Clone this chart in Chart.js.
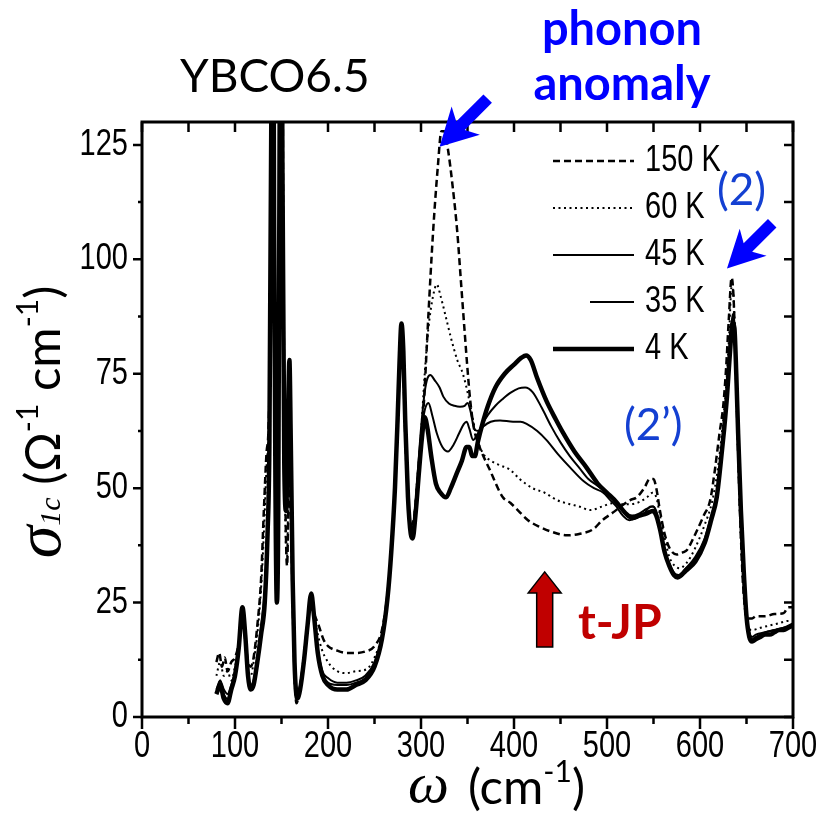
<!DOCTYPE html>
<html>
<head>
<meta charset="utf-8">
<script src="https://cdn.jsdelivr.net/npm/chart.js@4.4.1/dist/chart.umd.min.js"></script>
<style>
  html, body { margin: 0; padding: 0; background: #fff; }
  #wrap { position: relative; width: 821px; height: 822px; overflow: hidden; }
  #chart { position: absolute; left: 0; top: 0; }
  .note { position: absolute; white-space: nowrap; line-height: 1; font-family: Lato, "Open Sans", sans-serif; }
  .blue { color: #0000ff; font-weight: bold; font-size: 47px; width: 300px; text-align: center; }
  .lbl { color: #1440d2; font-size: 44px; }
  .serif { font-family: "Liberation Serif", "DejaVu Serif", serif; font-style: italic; }
  sup { font-size: 30px; vertical-align: 0; position: relative; top: -22px; }
</style>
</head>
<body>
<div id="wrap">
  <canvas id="chart" width="821" height="822"></canvas>
  <div class="note" style="left:180px; top:52px; font-size:46px;">YBCO6.5</div>
  <div class="note blue" style="left:472px; top:4px;">phonon</div>
  <div class="note blue" style="left:472px; top:59px;">anomaly</div>
  <div class="note lbl" style="left:717px; top:166px;">(2)</div>
  <div class="note lbl" style="left:624px; top:401px;">(2’)</div>
  <div class="note" style="left:578px; top:597px; font-size:48px; font-weight:bold; color:#c00000;">t-JP</div>
  <div class="note serif" style="left:408px; top:754px; font-size:58px;">ω</div>
  <div class="note" style="left:468px; top:761px; font-size:49px;">(cm<sup>-1</sup>)</div>
  <div class="note" style="left:-122px; top:387px; width:320px; height:70px; line-height:70px; text-align:center; font-size:49px; transform:rotate(-90deg);"><span class="serif" style="font-size:66px;">σ</span><span class="serif" style="font-size:30px;">1c</span>&nbsp;(Ω<sup>-1</sup> cm<sup>-1</sup>)</div>
</div>
<script>
// sigma_1c spectra of YBCO6.5, [omega (cm-1), sigma (1/(Ohm cm))]
const t150 = [[80,12],[83,14],[86,11],[89,13],[92,10],[96,12],[100,13],[104,16],[108,22],[111,17],[114,12],[117,11],[120,13],[124,20],[128,30],[131,45],[134,58],[136,63],[138,90],[140,200],[142,100],[144,50],[146,40],[148,110],[150,200],[152,100],[154,50],[156,33],[158,50],[160,45],[162,25],[164,10],[166,3],[168,4],[171,8],[175,15],[179,22],[182,24],[186,22],[190,20],[195,17],[200,15.5],[210,14.5],[220,14],[230,14],[240,14.3],[250,15.5],[258,19],[264,27],[268,36],[272,50],[275,64],[277,75],[279,83],[281,76],[283,62],[286,48],[289,42],[292,43],[296,50],[300,58],[304,72],[308,88],[313,106],[318,120],[322,128],[325,128],[329,124],[334,116],[339,106],[343,95],[347,84],[350,76],[353,69],[357,63],[363,59],[374,54],[388,48],[396,46.8],[405,45],[415,43],[428,41.5],[440,40.5],[457,39.7],[470,40],[485,41],[495,43],[506,44.6],[515,46],[525,47.4],[532,48],[540,50],[546,52],[550,52],[553,50],[557,45],[562,40],[567,37],[575,35.5],[582,36],[586,36.5],[595,40],[604,44],[611,47.4],[616,54],[621,62],[625,68],[628,76],[631,87],[634,96],[636,92],[638,80],[640,65],[643,45],[646,30],[649,23],[652,21.5],[656,21.5],[660,22],[670,22],[680,22.5],[690,22.7],[695,24],[700,24]];
const t60 = [[80,9],[84,12],[88,9],[92,10],[96,8],[100,11],[104,15],[108,23],[111,17],[114,10],[117,9],[120,12],[124,18],[128,28],[131,40],[134,55],[136,62],[138,85],[140,200],[142,100],[144,45],[146,38],[148,110],[150,200],[152,100],[154,45],[156,35],[158,55],[160,45],[162,25],[164,8],[166,4],[169,5],[173,10],[177,18],[181,24],[184,23],[188,19],[193,15],[200,12],[210,10],[220,9.6],[230,10],[242,10.5],[250,13],[258,18],[264,27],[268,37],[272,52],[275,66],[277,77],[279,84],[281,78],[283,64],[286,49],[289,42],[292,43],[296,52],[300,62],[304,75],[308,85],[313,92],[317,94.5],[321,92],[326,88],[332,83],[339,78],[345,75],[350,71],[355,66],[360,61],[367,57.5],[375,56],[385,55],[396,54],[406,52],[420,50],[433,49],[446,47.4],[460,46.5],[470,46],[482,45.2],[495,46],[506,46.7],[515,46.5],[525,46.5],[535,47],[543,48],[549,49],[553,48],[557,44],[562,39],[567,35],[573,33],[578,32.5],[585,33.5],[595,37],[605,42],[613,47],[619,54],[624,63],[628,72],[631,82],[634,94],[636,92],[638,80],[640,64],[643,44],[646,30],[649,22],[652,19.5],[656,19],[665,19.5],[675,20],[685,20.5],[695,21],[700,21]];
const t45 = [[80,6],[84,8],[88,6],[92,5],[96,7],[100,10],[104,16],[108,24],[111,18],[114,9],[117,7],[120,8],[124,13],[128,20],[132,28],[135,42],[137,60],[139,130],[140.5,200],[142,110],[143.5,50],[145,25],[146.5,45],[148,130],[149.5,200],[151,120],[153,55],[155,45],[157,65],[158.5,76],[160,60],[162,30],[164,12],[167,5],[170,7],[174,13],[178,20],[182,26],[185,22],[189,15],[194,10],[200,8.5],[210,7.5],[220,7.5],[230,8],[240,9],[250,12],[258,17.5],[264,26],[268,36],[272,50],[275,65],[277,77],[279,85],[281,79],[283,64],[286,48],[289,41],[292,42],[296,52],[300,63],[304,71],[307,74],[310,74.7],[315,73.5],[320,72],[324,70],[330,68.5],[336,68],[342,67.8],[347,68],[350,68.6],[353,67],[356,64],[358,62.7],[362,62.5],[367,63.5],[375,64.5],[385,64.8],[399,64.5],[407,64.5],[414,64],[425,62.5],[435,60.5],[447,57.5],[460,54.6],[475,51.5],[486,50],[496,49],[503,47.5],[510,46],[517,44],[524,43],[532,43.5],[540,44.5],[547,46],[550,46],[553,44.5],[557,41],[562,36.5],[567,33.5],[572,31.5],[577,31],[585,32.5],[595,35],[605,39],[612,44],[618,49],[622,56],[626,64],[629,71],[632,80],[635,88],[637,86],[639,76],[641,62],[644,45],[647,32],[650,23],[653,18.5],[656,17.5],[660,18],[670,18.5],[680,19],[690,19.5],[700,20.5]];
const t35 = [[80,5],[84,8],[88,5],[92,4],[96,6],[100,9],[104,15],[108,24],[111,18],[114,9],[117,6.5],[120,7.5],[124,12],[128,19],[132,26],[135,41],[137,60],[139,130],[140.5,200],[142,110],[143.5,50],[145,25],[146.5,45],[148,130],[149.5,200],[151,120],[153,55],[155,45],[157,65],[158.5,77],[160,60],[162,30],[164,12],[167,4.5],[170,6.5],[174,12.5],[178,20],[182,26.5],[185,22],[189,14.5],[194,9.5],[200,7.5],[210,7],[220,7],[230,7.5],[240,8.5],[250,11.5],[258,17],[264,26],[268,36],[272,50],[275,66],[277,78],[279,85.5],[281,80],[283,65],[286,48],[289,40],[291,39.5],[294,45],[298,56],[301,63],[304,67],[308,68.6],[312,66],[317,62],[323,59],[329,58],[335,59.5],[341,62],[346,64],[349,64.5],[352,63],[356,60.5],[360,61.5],[366,64],[372,66],[380,68],[388,69.5],[396,70.8],[405,71.8],[412,72],[420,71],[430,67.5],[440,63.5],[450,60],[460,57],[470,54.5],[480,52],[490,50.5],[496,49.6],[505,48],[512,46.5],[520,44.5],[527,44],[535,44.5],[543,45.5],[549,46],[553,45],[557,41.5],[562,36.5],[567,33.5],[572,31.5],[577,31],[585,32.5],[595,34.5],[605,38.5],[612,43.5],[618,48.5],[622,55.5],[626,63.5],[629,71],[632,80],[635,87],[637,86],[639,76],[641,62],[644,45],[647,32],[650,22.5],[653,18],[656,17],[660,17.5],[670,18.5],[680,19],[690,19.5],[700,20]];
const t4 = [[80,5],[84,7],[88,4],[92,3],[96,6],[100,9],[104,15],[108,24],[111,18],[114,9],[117,6],[120,7],[124,12],[128,18],[132,25],[135,40],[137,60],[139,130],[140.5,200],[142,110],[143.5,50],[145,25],[146.5,45],[148,130],[149.5,200],[151,120],[153,55],[155,45],[157,65],[158.5,78],[160,60],[162,30],[164,12],[167,4],[170,6],[174,12],[178,20],[182,27],[185,22],[189,14],[194,9],[200,7],[210,6],[220,6],[230,7],[240,8],[250,11],[258,17],[264,26],[268,36],[272,50],[275,66],[277,78],[279,86],[281,80],[283,65],[286,48],[289,40],[291,39],[294,44],[298,54],[301,61],[304,65.5],[307,63],[311,57],[316,51],[321,49],[327,48],[332,50],[338,53],[344,56],[349,59],[352,59],[355,57],[358,57],[361,60],[366,64],[372,68],[380,72],[390,75],[400,77],[408,78.5],[413,79],[418,78],[425,74],[435,69],[445,65],[453,62],[465,58],[478,54.5],[490,51],[500,49],[510,47],[520,44.5],[527,43.5],[535,44],[543,44.5],[549,45],[553,44],[557,41],[562,36],[567,33],[572,31],[576,30.5],[585,32],[595,34],[605,38],[612,43],[618,48],[622,55],[626,63],[629,70],[632,79],[635,86],[637,85],[639,75],[641,62],[644,45],[647,32],[650,22],[653,17.5],[656,16.5],[660,17],[665,17.5],[670,18],[675,18],[680,18.5],[685,19],[690,19],[695,19.5],[700,20]];

const tempLabels = ['150 K', '60 K', '45 K', '35 K', '4 K'];
const xTicks = [0, 100, 200, 300, 400, 500, 600, 700];
const yTicks = [0, 25, 50, 75, 100, 125];

// arrow tips, in data units
const phononTip = [320, 124.6];
const peak2Tip = [629, 98];
const jpTip = [433, 31.7];

const tickFont = '29px "Liberation Sans", Arial, sans-serif';

function pts(arr) { return arr.map(p => ({ x: p[0], y: p[1] })); }

function arrow(ctx, tx, ty, ang, len, shaftW, headL, headW, fill, stroke) {
    ctx.save();
    ctx.translate(tx, ty);
    ctx.rotate(ang);
    ctx.beginPath();
    ctx.moveTo(0, 0);
    ctx.lineTo(headL, -headW / 2);
    ctx.lineTo(headL * 0.8, -shaftW / 2);
    ctx.lineTo(len, -shaftW / 2);
    ctx.lineTo(len, shaftW / 2);
    ctx.lineTo(headL * 0.8, shaftW / 2);
    ctx.lineTo(headL, headW / 2);
    ctx.closePath();
    ctx.fillStyle = fill;
    ctx.fill();
    if (stroke) {
        ctx.strokeStyle = stroke;
        ctx.lineWidth = 1.5;
        ctx.stroke();
    }
    ctx.restore();
}

function stretchedText(ctx, text, x, y, align) {
    ctx.save();
    ctx.translate(x, y);
    ctx.scale(1, 1.25);
    ctx.textAlign = align;
    ctx.textBaseline = 'middle';
    ctx.fillText(text, 0, 0);
    ctx.restore();
}

const framePlugin = {
    id: 'frame',
    afterDraw(chart) {
        const { ctx, chartArea: a, scales: { x, y } } = chart;
        ctx.save();
        ctx.strokeStyle = '#000';
        ctx.fillStyle = '#000';
        ctx.lineWidth = 3;
        ctx.strokeRect(a.left, a.top, a.right - a.left, a.bottom - a.top);

        // ticks (minor ones halfway between the labelled ones)
        ctx.lineWidth = 2.5;
        ctx.beginPath();
        xTicks.forEach((v, i) => {
            const marks = [[v, true]];
            if (i > 0) marks.push([(v + xTicks[i - 1]) / 2, false]);
            marks.forEach(([m, major]) => {
                const px = x.getPixelForValue(m);
                ctx.moveTo(px, a.bottom); ctx.lineTo(px, a.bottom + (major ? 12 : 7));
                ctx.moveTo(px, a.top); ctx.lineTo(px, a.top + 10);
            });
        });
        yTicks.forEach((v, i) => {
            const marks = [[v, true]];
            if (i > 0) marks.push([(v + yTicks[i - 1]) / 2, false]);
            marks.forEach(([m, major]) => {
                const py = y.getPixelForValue(m);
                ctx.moveTo(a.left, py); ctx.lineTo(a.left - (major ? 9 : 4), py);
                ctx.moveTo(a.right, py); ctx.lineTo(a.right - 9, py);
            });
        });
        ctx.stroke();

        // tick labels
        ctx.font = tickFont;
        xTicks.forEach(v => stretchedText(ctx, String(v), x.getPixelForValue(v), a.bottom + 30, 'center'));
        yTicks.forEach(v => stretchedText(ctx, String(v), a.left - 14, y.getPixelForValue(v), 'right'));

        // legend
        chart.data.datasets.forEach((ds, i) => {
            const ly = 161 + i * 47;
            ctx.save();
            ctx.strokeStyle = '#000';
            ctx.lineWidth = ds.borderWidth;
            ctx.setLineDash(ds.borderDash || []);
            ctx.beginPath();
            ctx.moveTo(i === 3 ? 590 : 553, ly);
            ctx.lineTo(634, ly);
            ctx.stroke();
            ctx.restore();
            stretchedText(ctx, ds.label, 645, ly, 'left');
        });

        // annotation arrows
        const ang = -Math.PI / 4;
        arrow(ctx, x.getPixelForValue(phononTip[0]), y.getPixelForValue(phononTip[1]), ang, 68, 12, 37, 40, '#0000ff');
        arrow(ctx, x.getPixelForValue(peak2Tip[0]), y.getPixelForValue(peak2Tip[1]), ang, 64, 12, 37, 38, '#0000ff');
        const jx = x.getPixelForValue(jpTip[0]), jy = y.getPixelForValue(jpTip[1]);
        ctx.beginPath();
        ctx.moveTo(jx, jy);
        ctx.lineTo(jx + 16.5, jy + 21);
        ctx.lineTo(jx + 8, jy + 21);
        ctx.lineTo(jx + 8, jy + 75);
        ctx.lineTo(jx - 8, jy + 75);
        ctx.lineTo(jx - 8, jy + 21);
        ctx.lineTo(jx - 16.5, jy + 21);
        ctx.closePath();
        ctx.fillStyle = '#c00000';
        ctx.fill();
        ctx.lineWidth = 1.5;
        ctx.strokeStyle = '#000';
        ctx.stroke();
        ctx.restore();
    }
};

new Chart(document.getElementById('chart'), {
    type: 'line',
    data: {
        datasets: [
            { label: tempLabels[0], data: pts(t150), borderColor: '#000', borderWidth: 2.5, borderDash: [7, 4] },
            { label: tempLabels[1], data: pts(t60), borderColor: '#000', borderWidth: 2, borderDash: [2, 3.5] },
            { label: tempLabels[2], data: pts(t45), borderColor: '#000', borderWidth: 2 },
            { label: tempLabels[3], data: pts(t35), borderColor: '#000', borderWidth: 2 },
            { label: tempLabels[4], data: pts(t4), borderColor: '#000', borderWidth: 4.5 }
        ]
    },
    options: {
        responsive: false,
        animation: false,
        layout: { padding: { left: 0, right: 28, top: 122, bottom: 0 } },
        plugins: { legend: { display: false }, tooltip: { enabled: false } },
        elements: { point: { radius: 0 }, line: { cubicInterpolationMode: 'monotone', fill: false } },
        scales: {
            x: {
                type: 'linear', min: 0, max: 700,
                grid: { display: false }, border: { display: false },
                ticks: { display: false },
                afterFit: s => { s.height = 105; }
            },
            y: {
                min: 0, max: 130,
                grid: { display: false }, border: { display: false },
                ticks: { display: false },
                afterFit: s => { s.width = 142; }
            }
        }
    },
    plugins: [framePlugin]
});
</script>
</body>
</html>
